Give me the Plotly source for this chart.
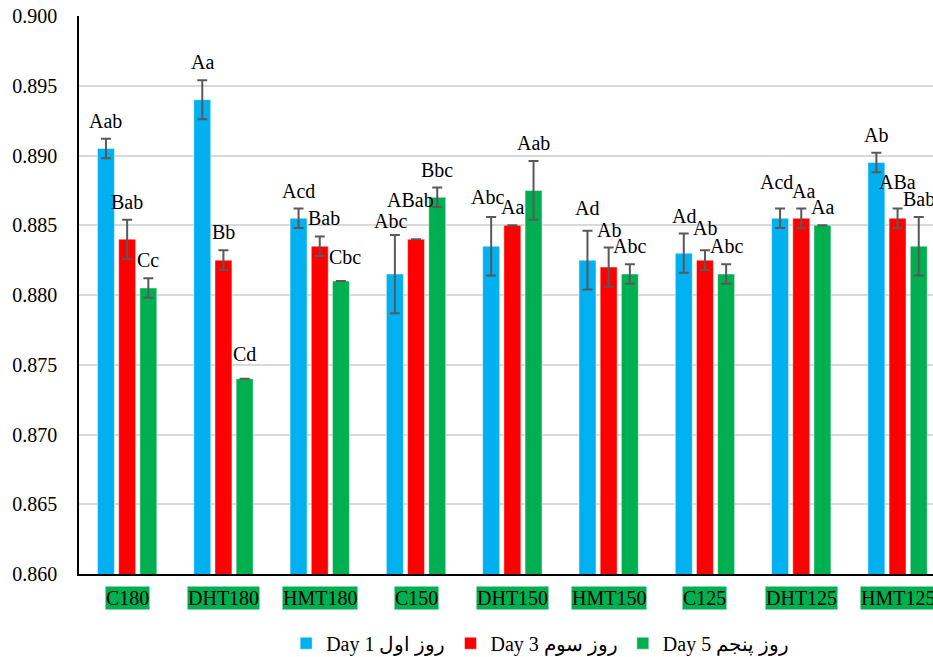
import plotly.graph_objects as go

# Treatments on the x axis
categories = ["C180", "DHT180", "HMT180", "C150", "DHT150", "HMT150", "C125", "DHT125", "HMT125"]

# Mean values per storage day
day1 = [0.8905, 0.8940, 0.8855, 0.8815, 0.8835, 0.8825, 0.8830, 0.8855, 0.8895]
day3 = [0.8840, 0.8825, 0.8835, 0.8840, 0.8850, 0.8820, 0.8825, 0.8855, 0.8855]
day5 = [0.8805, 0.8740, 0.8810, 0.8870, 0.8875, 0.8815, 0.8815, 0.8850, 0.8835]

# Standard errors
err1 = [0.0007, 0.0014, 0.0007, 0.0028, 0.0021, 0.0021, 0.0014, 0.0007, 0.0007]
err3 = [0.0014, 0.0007, 0.0007, 0.0000, 0.0000, 0.0014, 0.0007, 0.0007, 0.0007]
err5 = [0.0007, 0.0000, 0.0000, 0.0007, 0.0021, 0.0007, 0.0007, 0.0000, 0.0021]

# Significance letters
sig1 = ["Aab", "Aa", "Acd", "Abc", "Abc", "Ad", "Ad", "Acd", "Ab"]
sig3 = ["Bab", "Bb", "Bab", "ABab", "Aa", "Ab", "Ab", "Aa", "ABa"]
sig5 = ["Cc", "Cd", "Cbc", "Bbc", "Aab", "Abc", "Abc", "Aa", "Bab"]

series_names = ["Day 1 روز اول", "Day 3 روز سوم", "Day 5 روز پنجم"]
y_ticks = [0.860, 0.865, 0.870, 0.875, 0.880, 0.885, 0.890, 0.895, 0.900]

colors = ["#00B0F0", "#FF0000", "#00B050"]
FONT = "Liberation Serif"
BARGAP = 0.34
BARGROUPGAP = 0.2

# Pixel nudges (dx, dy) for letter labels that would otherwise collide,
# keyed by (category index, series index)
LABEL_NUDGE = {
    (1, 2): (0, 7),
    (2, 1): (4, 0),
    (2, 2): (4, 6),
    (3, 0): (-4, -4),
    (3, 1): (-6, 21),
    (4, 0): (-4, 2),
    (5, 0): (0, 5),
    (6, 1): (0, 4),
    (7, 0): (-4, 9),
    (7, 1): (2, 0),
    (8, 1): (0, 9),
}

fig = go.Figure()
values = [day1, day3, day5]
errors = [err1, err3, err5]
letters = [sig1, sig3, sig5]

for name, vals, errs, col in zip(series_names, values, errors, colors):
    fig.add_trace(go.Bar(
        x=categories, y=vals, name=name,
        marker=dict(color=col, line=dict(color="rgba(255,255,255,0.45)", width=1)),
        error_y=dict(type="data", array=errs, visible=True,
                     color="#595959", thickness=2, width=5),
    ))

# Letters above each bar (placed over the error bar top)
slot = (1 - BARGAP) / 3
for s, (vals, errs, labs) in enumerate(zip(values, errors, letters)):
    for i, (v, e, t) in enumerate(zip(vals, errs, labs)):
        dx, dy = LABEL_NUDGE.get((i, s), (0, 0))
        fig.add_annotation(
            x=i + (s - 1) * slot, y=v + e, xref="x", yref="y",
            text=t, showarrow=False, yanchor="bottom",
            xshift=dx, yshift=5 + dy,
            font=dict(family=FONT, size=20, color="black"),
        )

# Category labels drawn as green boxes under the axis
for i, c in enumerate(categories):
    fig.add_annotation(
        x=i, y=0, xref="x", yref="paper", text=c, showarrow=False,
        yanchor="top", yshift=-12, bgcolor="#00B050", borderpad=0,
        font=dict(family=FONT, size=20, color="black"),
    )

fig.update_layout(
    width=933, height=657,
    margin=dict(l=79, r=0, t=16, b=83, autoexpand=False),
    paper_bgcolor="white", plot_bgcolor="white",
    barmode="group", bargap=BARGAP, bargroupgap=BARGROUPGAP,
    font=dict(family=FONT, size=20, color="black"),
    showlegend=True,
    legend=dict(orientation="h", x=0.54, xanchor="center", y=-0.124, yanchor="middle",
                font=dict(family=FONT, size=20, color="black"),
                itemwidth=30, traceorder="normal"),
)
fig.update_xaxes(
    type="category", range=[-0.5, 8.368], showticklabels=False, ticks="",
    showline=True, linecolor="black", linewidth=2, showgrid=False,
)
fig.update_yaxes(
    range=[0.860, 0.900], tickvals=y_ticks, tickformat=".3f",
    showgrid=True, gridcolor="#D9D9D9", gridwidth=2,
    showline=True, linecolor="black", linewidth=1.5, ticks="",
    ticklabelstandoff=16, zeroline=False,
    tickfont=dict(family=FONT, size=20, color="black"),
)

fig.write_html("out.html")
